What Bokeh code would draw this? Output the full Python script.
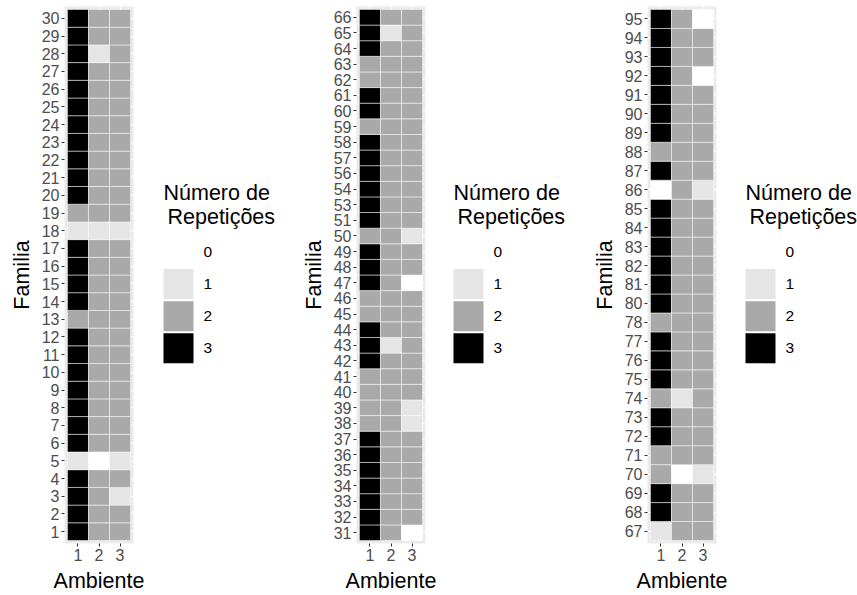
from bokeh.plotting import figure
from bokeh.layouts import row
from bokeh.models import FactorRange, Range1d, ColumnDataSource
from bokeh.embed import file_html
from bokeh.resources import INLINE
from bokeh.core.properties import value

FONT = "Liberation Sans"

ambientes = ["1", "2", "3"]
niveis = [0, 1, 2, 3]
cores = ["#FFFFFF", "#E5E5E5", "#A9A9A9", "#000000"]

# Panel 1 (families ascending)
familias_1 = list(range(1, 31))
amb1_p1 = [3, 3, 3, 3, 1, 3, 3, 3, 3, 3, 3, 3, 2, 3, 3, 3, 3, 1, 2, 3, 3, 3, 3, 3, 3, 3, 3, 3, 3, 3]
amb2_p1 = [2, 2, 2, 2, 0, 2, 2, 2, 2, 2, 2, 2, 2, 2, 2, 2, 2, 1, 2, 2, 2, 2, 2, 2, 2, 2, 2, 1, 2, 2]
amb3_p1 = [2, 2, 1, 2, 1, 2, 2, 2, 2, 2, 2, 2, 2, 2, 2, 2, 2, 1, 2, 2, 2, 2, 2, 2, 2, 2, 2, 2, 2, 2]

# Panel 2
familias_2 = [31, 32, 33, 34, 35, 36, 37, 38, 39, 40, 41, 42, 43, 44, 45, 46, 47, 48, 49, 50,
              51, 53, 54, 56, 57, 58, 59, 60, 61, 62, 63, 64, 65, 66]
amb1_p2 = [3, 3, 3, 3, 3, 3, 3, 2, 2, 2, 2, 3, 3, 3, 2, 2, 3, 3, 3, 2,
           3, 3, 3, 3, 3, 3, 2, 3, 3, 2, 2, 3, 3, 3]
amb2_p2 = [2, 2, 2, 2, 2, 2, 2, 2, 2, 2, 2, 2, 1, 2, 2, 2, 2, 2, 2, 2,
           2, 2, 2, 2, 2, 2, 2, 2, 2, 2, 2, 2, 1, 2]
amb3_p2 = [0, 2, 2, 2, 2, 2, 2, 1, 1, 2, 2, 2, 2, 2, 2, 2, 0, 2, 2, 1,
           2, 2, 2, 2, 2, 2, 2, 2, 2, 2, 2, 2, 2, 2]

# Panel 3
familias_3 = [67, 68, 69, 70, 71, 72, 73, 74, 75, 76, 77, 78, 80, 81, 82, 83, 84, 85, 86, 87,
              88, 89, 90, 91, 92, 93, 94, 95]
amb1_p3 = [1, 3, 3, 2, 2, 3, 3, 2, 3, 3, 3, 2, 3, 3, 3, 3, 3, 3, 0, 3,
           2, 3, 3, 3, 3, 3, 3, 3]
amb2_p3 = [2, 2, 2, 0, 2, 2, 2, 1, 2, 2, 2, 2, 2, 2, 2, 2, 2, 2, 2, 2,
           2, 2, 2, 2, 2, 2, 2, 2]
amb3_p3 = [2, 2, 2, 1, 2, 2, 2, 2, 2, 2, 2, 2, 2, 2, 2, 2, 2, 2, 1, 2,
           2, 2, 2, 2, 0, 2, 2, 0]

titulo_legenda = ["Número de", "Repetições"]

H = 595
TOP = 6
BOTTOM = 52
FRAME_W = 69
RIGHT = 20
TITLE_SIZE = "21.5px"
TICK_SIZE = "16px"


def heat_panel(fams, cols, left, pad_y):
    ys = [str(f) for f in fams]
    xs, yy, cc = [], [], []
    for a, vals in zip(ambientes, cols):
        for f, v in zip(ys, vals):
            xs.append(a)
            yy.append(f)
            cc.append(cores[niveis.index(v)])
    src = ColumnDataSource(dict(x=xs, y=yy, color=cc))
    p = figure(
        title=None,
        x_range=FactorRange(factors=ambientes, range_padding=0.14, range_padding_units="absolute"),
        y_range=FactorRange(factors=ys, range_padding=pad_y, range_padding_units="absolute"),
        width=left + FRAME_W + RIGHT, height=H,
        min_border_left=left, min_border_right=RIGHT, min_border_top=TOP, min_border_bottom=BOTTOM,
        output_backend="svg", toolbar_location=None,
    )
    p.rect(x="x", y="y", width=1, height=1, fill_color="color", line_color="white",
           line_width=0.5, source=src)
    p.background_fill_color = "#EBEBEB"
    p.border_fill_color = "white"
    p.outline_line_color = None
    p.xgrid.grid_line_color = "white"
    p.ygrid.grid_line_color = "white"
    for ax, lab in ((p.xaxis, "Ambiente"), (p.yaxis, "Familia")):
        ax.axis_label = lab
        ax.axis_label_text_font = FONT
        ax.axis_label_text_font_size = TITLE_SIZE
        ax.axis_label_text_font_style = "normal"
        ax.axis_label_text_color = "black"
        ax.major_label_text_font = FONT
        ax.major_label_text_font_size = TICK_SIZE
        ax.major_label_text_color = "#4D4D4D"
        ax.axis_line_color = None
        ax.major_tick_line_color = "#333333"
        ax.major_tick_out = 3
        ax.major_tick_in = 0
        ax.minor_tick_line_color = None
        ax.major_label_standoff = 2
        ax.axis_label_standoff = 5
    return p


def legend_panel(width, key_x):
    p = figure(
        title=None,
        x_range=Range1d(0, width), y_range=Range1d(H - BOTTOM, TOP),
        width=width, height=H, min_border_left=0, min_border_right=0,
        min_border_top=TOP, min_border_bottom=BOTTOM,
        output_backend="svg", toolbar_location=None,
    )
    p.axis.visible = False
    p.grid.visible = False
    p.outline_line_color = None
    p.background_fill_color = "white"
    p.border_fill_color = "white"
    key_size = 30
    first_c = 251.5
    pitch = 32.1
    yc = [first_c + i * pitch for i in range(len(niveis))]
    p.rect(x=[key_x + key_size / 2] * len(niveis), y=yc, width=key_size, height=key_size,
           fill_color=cores, line_color=None)
    p.text(x=[key_x + key_size + 10] * len(niveis), y=yc, text=[str(n) for n in niveis],
           text_font=value(FONT), text_font_size="15.5px", text_baseline="middle",
           text_align="left", text_color="black")
    p.text(x=[key_x, key_x + 4], y=[192, 216], text=titulo_legenda,
           text_font=value(FONT), text_font_size=TITLE_SIZE, text_baseline="alphabetic",
           text_align="left", text_color="black")
    return p


p1 = heat_panel(familias_1, (amb1_p1, amb2_p1, amb3_p1), 64, 0.17)
l1 = legend_panel(286 - (64 + FRAME_W + RIGHT), 30 - RIGHT)
p2 = heat_panel(familias_2, (amb1_p2, amb2_p2, amb3_p2), 70, 0.19)
l2 = legend_panel(285 - (70 + FRAME_W + RIGHT), 28 - RIGHT)
p3 = heat_panel(familias_3, (amb1_p3, amb2_p3, amb3_p3), 76, 0.158)
l3 = legend_panel(286 - (76 + FRAME_W + RIGHT), 29 - RIGHT)

layout = row(p1, l1, p2, l2, p3, l3, spacing=0)
layout.margin = 0

open("out.html", "w").write(file_html(layout, INLINE))
